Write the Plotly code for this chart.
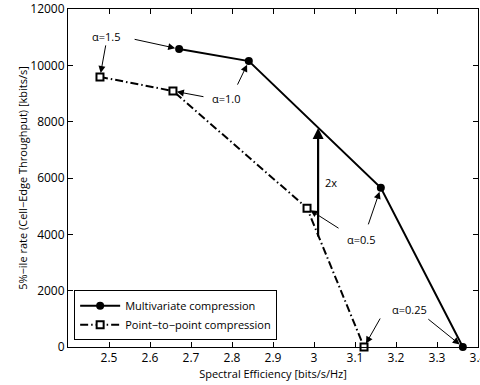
import plotly.graph_objects as go

# Data
mv_x = [2.671, 2.841, 3.163, 3.363]
mv_y = [10580, 10150, 5650, 0]
p2p_x = [2.478, 2.656, 2.983, 3.122]
p2p_y = [9590, 9090, 4930, 0]
series_names = ["Multivariate compression", "Point\u2212to\u2212point compression"]
alpha_labels = ["\u03b1=1.5", "\u03b1=1.0", "\u03b1=0.5", "\u03b1=0.25"]
gain_x = 3.01
gain_y = [3870, 7775]
x_ticks = [2.5, 2.6, 2.7, 2.8, 2.9, 3.0, 3.1, 3.2, 3.3, 3.4]
x_ticktext = ["2.5", "2.6", "2.7", "2.8", "2.9", "3", "3.1", "3.2", "3.3", "3.4"]
y_ticks = [0, 2000, 4000, 6000, 8000, 10000, 12000]
y_ticktext = ["0", "2000", "4000", "6000", "8000", "10000", "12000"]

FONT = "Open Sans"
FS = 12
FS_S = 11

fig = go.Figure()
fig.add_trace(go.Scatter(
    x=mv_x, y=mv_y, mode="lines+markers", name=series_names[0], cliponaxis=False,
    line=dict(color="black", width=2),
    marker=dict(symbol="circle", size=8, color="black"),
))
fig.add_trace(go.Scatter(
    x=p2p_x, y=p2p_y, mode="lines+markers", name=series_names[1], cliponaxis=False,
    line=dict(color="black", width=2, dash="8px,3px,1.5px,3px"),
    marker=dict(symbol="square", size=7, color="white", line=dict(color="black", width=2)),
))

ann = []
def arrow(x, y, ax, ay, w=1, standoff=4):
    ann.append(dict(x=x, y=y, ax=ax, ay=ay, xref="x", yref="y", text="",
                    showarrow=True, arrowhead=2, arrowsize=1.4, arrowwidth=w,
                    arrowcolor="black", standoff=standoff))

def label(x, y, t):
    ann.append(dict(x=x, y=y, xref="x", yref="y", text=t, showarrow=False,
                    font=dict(family=FONT, size=FS_S, color="black")))

# alpha = 1.5
label(2.493, 11041, alpha_labels[0])
arrow(mv_x[0], mv_y[0], -46, -10)
arrow(p2p_x[0], p2p_y[0], 6, -33)
# alpha = 1.0
label(2.785, 8840, alpha_labels[1])
arrow(p2p_x[1], p2p_y[1], 32, 6)
arrow(mv_x[1], mv_y[1], -12, 25)
# alpha = 0.5
label(3.115, 3799, alpha_labels[2])
arrow(p2p_x[2], p2p_y[2], 33, 21)
arrow(mv_x[2], mv_y[2], -13, 38)
# alpha = 0.25
label(3.234, 1349, alpha_labels[3])
arrow(p2p_x[3], p2p_y[3], 17, -30)
arrow(mv_x[3], mv_y[3], -36, -29)
# 2x gain arrow
ann.append(dict(x=gain_x, y=gain_y[1], ax=gain_x, ay=gain_y[0], xref="x", yref="y",
                axref="x", ayref="y", text="", showarrow=True, arrowhead=2,
                arrowsize=1, arrowwidth=2.2, arrowcolor="black"))
label(3.041, 5858, "2x")

axis_common = dict(
    showline=True, linecolor="black", linewidth=1, mirror="ticks", automargin=False,
    ticks="inside", ticklen=5, tickcolor="black", showgrid=False, zeroline=False,
    tickfont=dict(family=FONT, size=FS, color="black"), ticklabeloverflow="allow",
)

fig.update_layout(
    width=480, height=385,
    margin=dict(l=68, r=2, t=9, b=38),
    paper_bgcolor="white", plot_bgcolor="white",
    font=dict(family=FONT, size=FS, color="black"),
    xaxis=dict(range=[2.4, 3.4], tickvals=x_ticks, ticktext=x_ticktext,
               title=dict(text="Spectral Efficiency [bits/s/Hz]", standoff=0,
                          font=dict(family=FONT, size=FS_S)),
               **axis_common),
    yaxis=dict(range=[0, 12000], tickvals=y_ticks, ticktext=y_ticktext,
               title=dict(text="5%\u2212ile rate (Cell\u2212Edge Throughput) [kbits/s]", standoff=0,
                          font=dict(family=FONT, size=FS_S)),
               **axis_common),
    legend=dict(x=0.015, y=0.02, xanchor="left", yanchor="bottom",
                bordercolor="black", borderwidth=1, bgcolor="white",
                font=dict(family=FONT, size=FS_S), tracegroupgap=0, itemwidth=40),
    annotations=ann,
    showlegend=True,
)

fig.write_html("out.html", config={"displayModeBar": False},
               post_script="document.body.style.margin='0';")
